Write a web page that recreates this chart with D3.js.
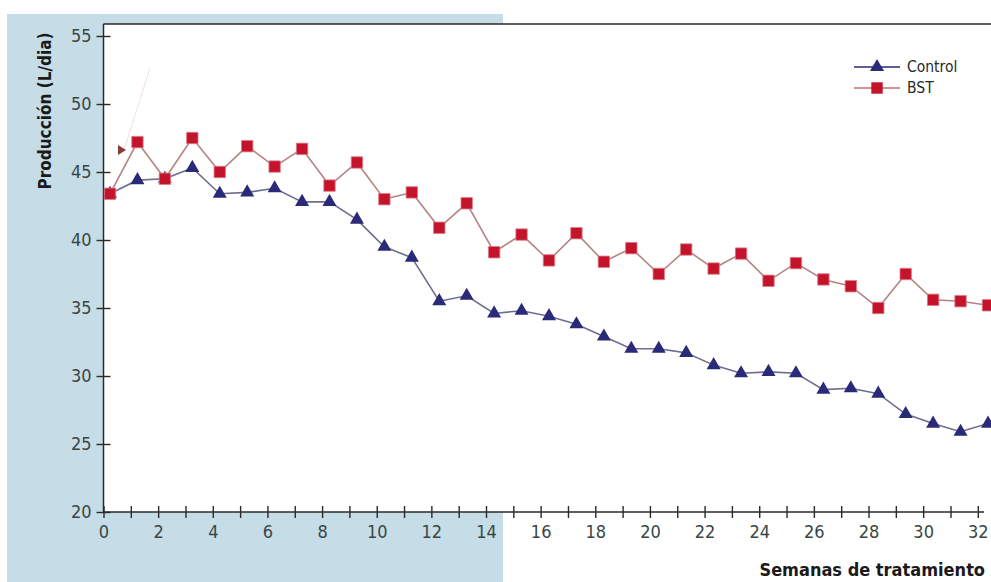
<!DOCTYPE html>
<html>
<head>
<meta charset="utf-8">
<script src="https://cdn.jsdelivr.net/npm/d3@7"></script>
<style>
  html, body { margin: 0; padding: 0; background: #ffffff; }
  svg { display: block; }
</style>
</head>
<body>
<svg id="chart" width="991" height="582"></svg>
<script>
// ---- data ----
const weeks = [0,1,2,3,4,5,6,7,8,9,10,11,12,13,14,15,16,17,18,19,20,21,22,23,24,25,26,27,28,29,30,31,32];
const controlValues = [43.4,44.4,44.5,45.3,43.4,43.5,43.8,42.8,42.8,41.5,39.5,38.7,35.5,35.9,34.6,34.8,34.4,33.8,32.9,32.0,32.0,31.7,30.8,30.2,30.3,30.2,29.0,29.1,28.7,27.2,26.5,25.9,26.5];
const bstValues     = [43.4,47.2,44.5,47.5,45.0,46.9,45.4,46.7,44.0,45.7,43.0,43.5,40.9,42.7,39.1,40.4,38.5,40.5,38.4,39.4,37.5,39.3,37.9,39.0,37.0,38.3,37.1,36.6,35.0,37.5,35.6,35.5,35.2];
const yTicks = [20,25,30,35,40,45,50,55];
const seriesNames = ["Control","BST"];
const yTitle = "Producción (L/dia)";
const xTitle = "Semanas de tratamiento";

// ---- layout ----
const svg = d3.select("#chart");
const pLeft = 103.5, pTop = 24, pBottom = 512, pRight = 991;

const x = d3.scaleLinear().domain([0, 32]).range([103.5, 977.8]);   // axis ticks
const xp = d3.scaleLinear().domain([0, 32]).range([110, 988]);      // plotted points
const y = d3.scaleLinear().domain([20, 55]).range([512, 36]);

const tickFont = "'DejaVu Sans Condensed', 'DejaVu Sans', sans-serif";
const tickColor = "#3a4645";

// blue backdrop
svg.append("rect").attr("x", 7).attr("y", 14).attr("width", 496).attr("height", 568).attr("fill", "#c6dde7");
// plot area
svg.append("rect").attr("x", pLeft).attr("y", pTop).attr("width", pRight - pLeft).attr("height", pBottom - pTop).attr("fill", "#ffffff");

// top border
svg.append("line").attr("x1", pLeft).attr("x2", pRight).attr("y1", pTop).attr("y2", pTop)
  .attr("stroke", "#2a2a2a").attr("stroke-width", 1.4);

// Y axis
const yAxis = svg.append("g").attr("transform", `translate(${pLeft},0)`)
  .call(d3.axisLeft(y).tickValues(yTicks).tickSize(0).tickPadding(12));
yAxis.select(".domain").remove();
yAxis.selectAll(".tick line").attr("x1", -7).attr("x2", 7).attr("stroke", "#2a2a2a").attr("stroke-width", 1.4);
yAxis.selectAll(".tick text").attr("font-family", tickFont).attr("font-size", 18).attr("fill", tickColor);
svg.append("line").attr("x1", pLeft).attr("x2", pLeft).attr("y1", pTop).attr("y2", pBottom)
  .attr("stroke", "#2a2a2a").attr("stroke-width", 1.5);

// X axis
const xAxis = svg.append("g").attr("transform", `translate(0,${pBottom})`)
  .call(d3.axisBottom(x).tickValues(weeks).tickSize(0).tickPadding(13)
    .tickFormat(d => d % 2 === 0 ? d : ""));
xAxis.select(".domain").remove();
xAxis.selectAll(".tick line").attr("y1", -6).attr("y2", 6).attr("stroke", "#2a2a2a").attr("stroke-width", 1.4);
xAxis.selectAll(".tick text").attr("font-family", tickFont).attr("font-size", 18).attr("fill", tickColor);
svg.append("line").attr("x1", pLeft).attr("x2", 984).attr("y1", pBottom).attr("y2", pBottom)
  .attr("stroke", "#2a2a2a").attr("stroke-width", 1.5);

// axis titles
svg.append("text").attr("transform", `translate(51,111) rotate(-90)`)
  .attr("text-anchor", "middle").attr("font-family", tickFont).attr("font-weight", "bold")
  .attr("font-size", 17).attr("fill", "#1a1a1a").text(yTitle);
svg.append("text").attr("x", 985).attr("y", 576).attr("text-anchor", "end")
  .attr("font-family", tickFont).attr("font-weight", "bold")
  .attr("font-size", 18).attr("fill", "#1a1a1a").text(xTitle);

// faint annotation arrow near the start
svg.append("line").attr("x1", 124).attr("y1", 150).attr("x2", 150).attr("y2", 68)
  .attr("stroke", "#f3dede").attr("stroke-width", 1);
svg.append("path").attr("d", "M118,145 L126,150 L118,155 Z").attr("fill", "#8b3a3a");

// lines
const controlData = weeks.map((w, i) => ({ w, v: controlValues[i] }));
const bstData = weeks.map((w, i) => ({ w, v: bstValues[i] }));
const line = d3.line().x(d => xp(d.w)).y(d => y(d.v));

svg.append("path").datum(controlData).attr("d", line).attr("fill", "none")
  .attr("stroke", "#6d6d92").attr("stroke-width", 1.6);
svg.append("path").datum(bstData).attr("d", line).attr("fill", "none")
  .attr("stroke", "#b58383").attr("stroke-width", 1.6);

const triPath = d3.symbol().type(d3.symbolTriangle).size(85);
const sqPath = d3.symbol().type(d3.symbolSquare).size(130);

svg.append("g").selectAll("path").data(controlData).join("path")
  .attr("d", triPath).attr("transform", d => `translate(${xp(d.w)},${y(d.v)})`)
  .attr("fill", "#2b2a78");
svg.append("g").selectAll("path").data(bstData).join("path")
  .attr("d", sqPath).attr("transform", d => `translate(${xp(d.w)},${y(d.v)})`)
  .attr("fill", "#c3142b").attr("stroke", "#e07a86").attr("stroke-width", 0.8);

// legend
const legend = svg.append("g");
const lg = [
  { name: seriesNames[0], y: 67, color: "#2b2a78", lineColor: "#2b2a78", sym: triPath },
  { name: seriesNames[1], y: 88, color: "#c3142b", lineColor: "#c96b78", sym: sqPath }
];
lg.forEach(d => {
  legend.append("line").attr("x1", 854).attr("x2", 900).attr("y1", d.y).attr("y2", d.y)
    .attr("stroke", d.lineColor).attr("stroke-width", 1.6);
  legend.append("path").attr("d", d.sym).attr("transform", `translate(877,${d.y})`).attr("fill", d.color);
  legend.append("text").attr("x", 907).attr("y", d.y + 5).attr("font-family", tickFont)
    .attr("font-size", 15.5).attr("fill", "#2a2a2a").text(d.name);
});
</script>
</body>
</html>
